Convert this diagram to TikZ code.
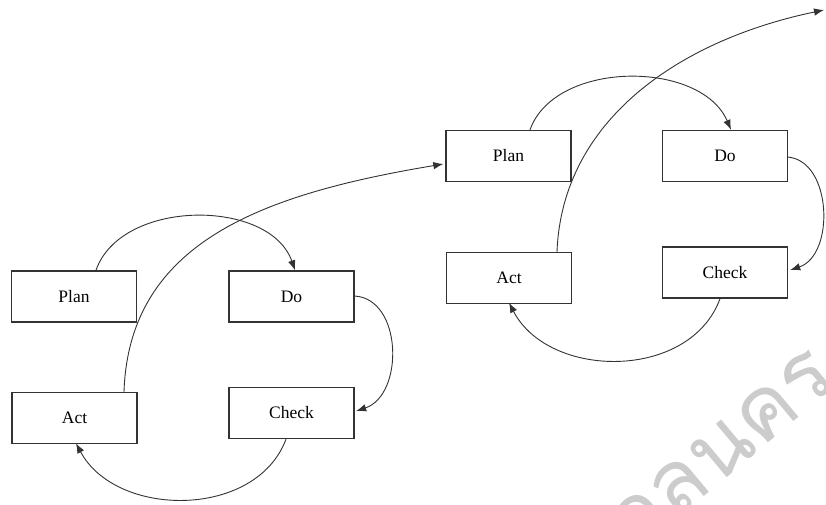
\documentclass[tikz,border=0pt]{standalone}
\usepackage{fontspec}
\setmainfont{Liberation Serif}
\newfontfamily\thaifont[Script=Thai]{Loma}
\usetikzlibrary{arrows.meta}

\tikzset{
  stagebox/.style={draw=black!80, line width=1.4pt, fill=white,
    minimum width=125pt, minimum height=51pt, inner sep=0pt,
    font=\fontsize{17.5}{17.5}\selectfont},
  flow/.style={draw=black!80, line width=0.9pt,
    -{Latex[length=10pt,width=7.5pt]}},
}

\begin{document}
\begin{tikzpicture}[x=1pt,y=-1pt]
  \useasboundingbox (0,0) rectangle (826,504);
  \clip (0,0) rectangle (826,504);
  \fill[white] (0,0) rectangle (826,504);

  % faint watermark in the lower right corner
  \node[text=black!20, font=\thaifont\fontsize{86}{86}\selectfont,
        rotate=40, anchor=base east, inner sep=0pt] (wm) at (840,383)
        {สกลนคร};

  % first cycle
  \node[stagebox] (plan1)  at (74,296.5)  {Plan};
  \node[stagebox] (do1)    at (291.5,296.5) {Do};
  \node[stagebox] (act1)   at (74.5,418)  {Act};
  \node[stagebox] (check1) at (291.5,413) {Check};

  % second cycle
  \node[stagebox] (plan2)  at (508.5,156) {Plan};
  \node[stagebox] (do2)    at (725,156)   {Do};
  \node[stagebox] (act2)   at (509,278)   {Act};
  \node[stagebox] (check2) at (725,272.5) {Check};

  \coordinate (next) at (824,10);

  % first cycle connectors
  \draw[flow] ([xshift=22pt]plan1.north) .. controls +(25,-72) and +(-25,-72) .. ([xshift=3.5pt]do1.north);
  \draw[flow] ([yshift=0.5pt]do1.east) .. controls +(48,3) and +(48,-16) .. ([xshift=1.5pt,yshift=2pt]check1.east);
  \draw[flow] ([xshift=-5.5pt]check1.south) .. controls +(-30,80) and +(40,75) .. ([xshift=1.5pt,yshift=1pt]act1.south);
  \draw[flow] ([xshift=49.5pt]act1.north) .. controls +(5,-150) and +(-180,30) .. ([xshift=-2pt,yshift=-8pt]plan2.west);

  % second cycle connectors
  \draw[flow] ([xshift=21.5pt]plan2.north) .. controls +(25,-70) and +(-30,-70) .. ([xshift=6pt]do2.north);
  \draw[flow] ([xshift=-1pt,yshift=-1pt]do2.east) .. controls +(45,3) and +(45,-15) .. ([xshift=2pt,yshift=2.5pt]check2.east);
  \draw[flow] ([xshift=-5pt]check2.south) .. controls +(-30,82) and +(40,77) .. ([yshift=1.5pt]act2.south);
  \draw[flow] ([xshift=48pt]act2.north) .. controls +(5,-132) and +(-144,30) .. (next);
\end{tikzpicture}
\end{document}
